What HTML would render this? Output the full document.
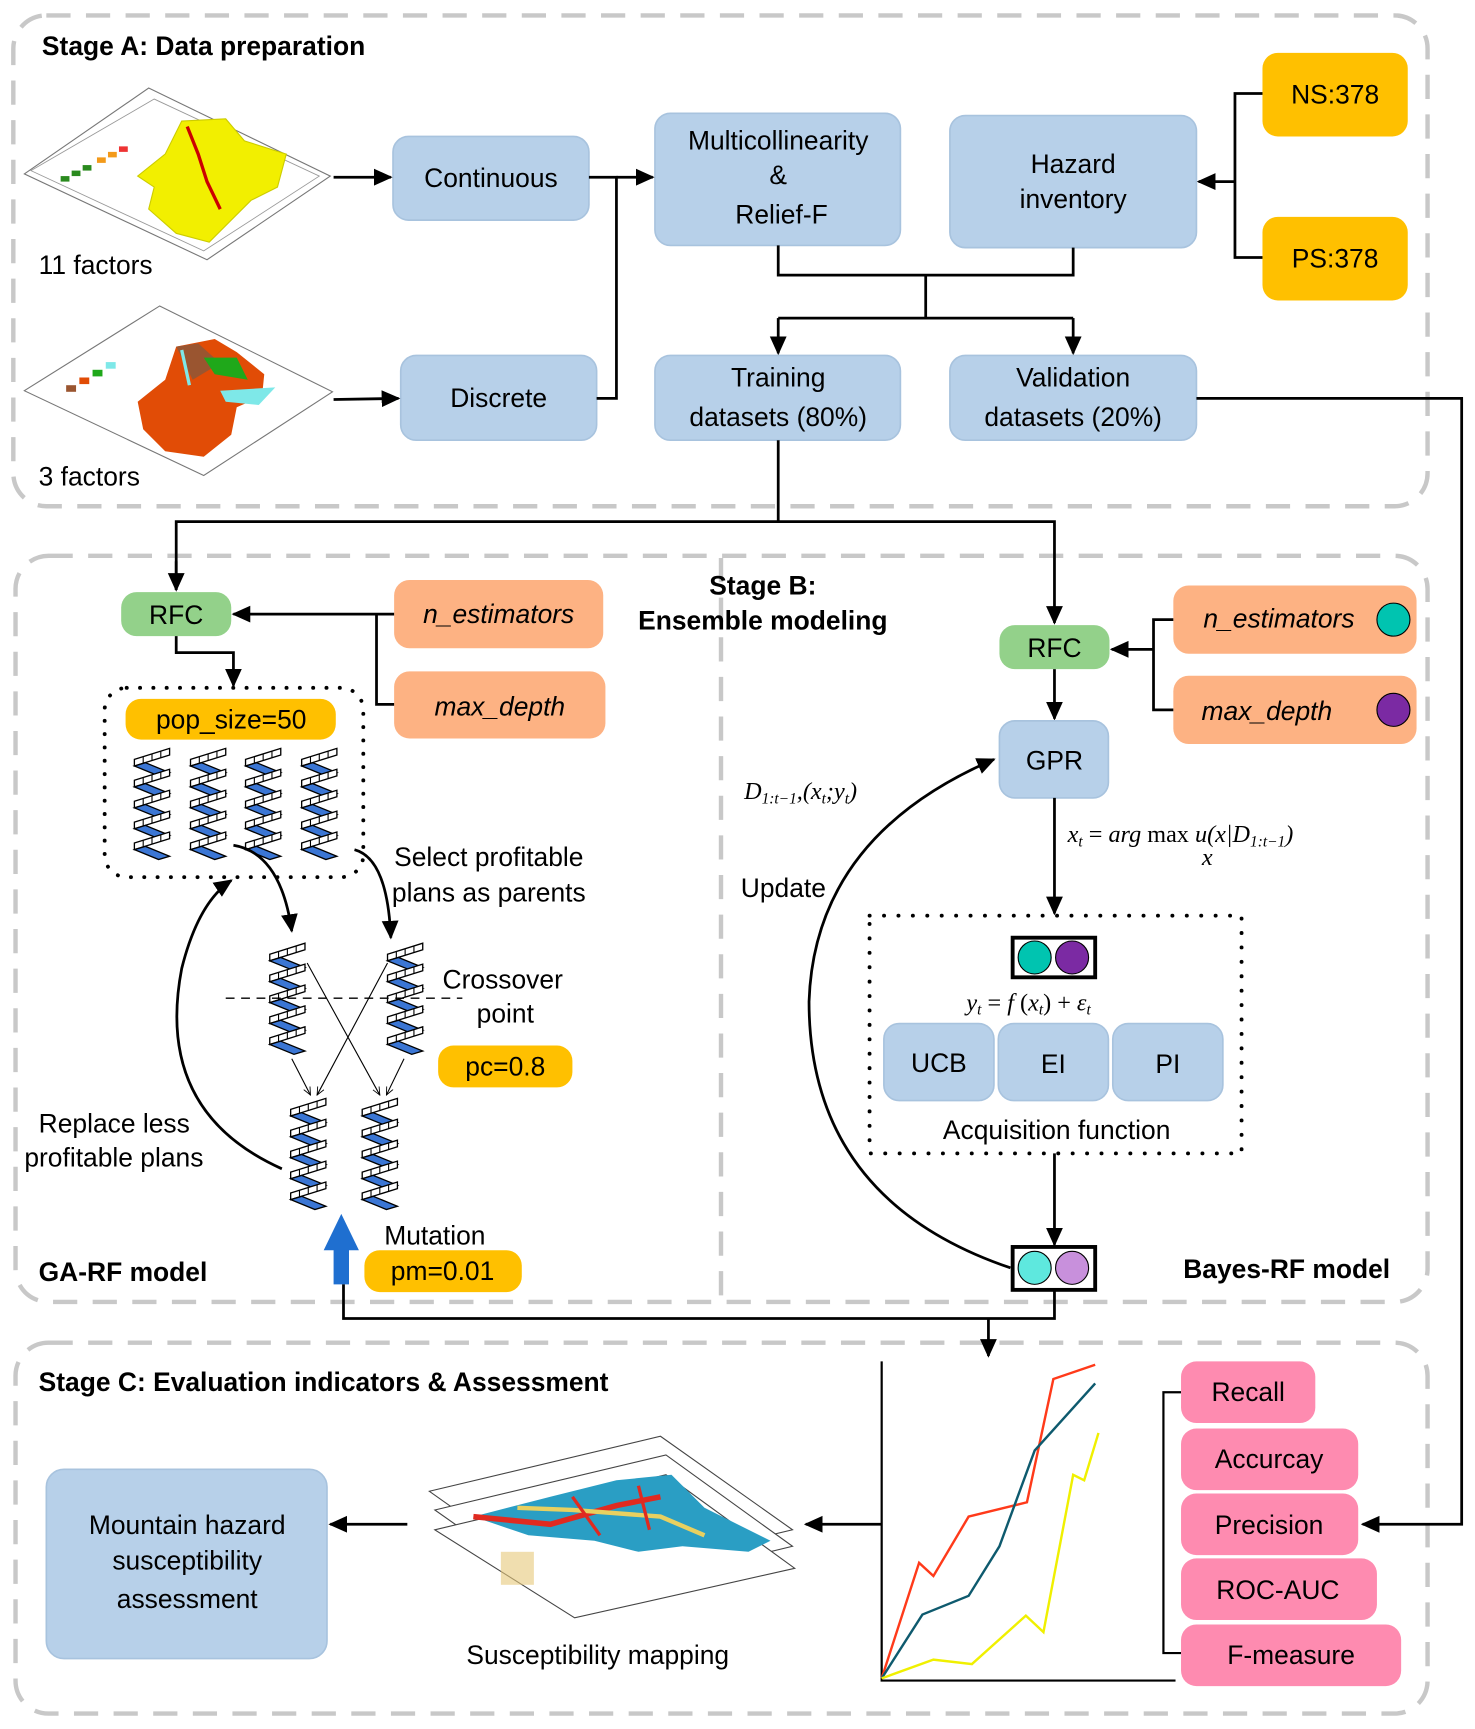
<!DOCTYPE html>
<html><head><meta charset="utf-8"><style>
html,body{margin:0;padding:0;background:#fff;}
svg{display:block;}
text{font-family:"Liberation Sans",Arial,sans-serif;fill:#000;}
.b{fill:#b7d0e9;stroke:#a8c3de;stroke-width:1.5;}
.y{fill:#ffc000;}
.o{fill:#fdb283;}
.g{fill:#93d18a;}
.p{fill:#fe8bb0;}
.ln{stroke:#000;stroke-width:2.5;fill:none;}
.dash{fill:none;stroke:#c8c8c8;stroke-width:4;stroke-dasharray:22 14;}
.t{font-size:24px;text-anchor:middle;}
.bold{font-weight:bold;font-size:24px;}
.it{font-style:italic;}
.m{font-family:"Liberation Serif",serif;font-style:italic;font-size:22px;}
</style></head><body>
<svg width="1475" height="1729" viewBox="0 0 1340 1571" xmlns="http://www.w3.org/2000/svg">
<defs>
<marker id="a" viewBox="0 0 10 10" refX="9" refY="5" markerUnits="userSpaceOnUse" markerWidth="17" markerHeight="17" orient="auto"><path d="M0,0.5L10,5L0,9.5z" fill="#000"/></marker>
<marker id="oa" viewBox="0 0 10 10" refX="9" refY="5" markerWidth="8" markerHeight="8" orient="auto"><path d="M0,1L9,5L0,9" fill="none" stroke="#000" stroke-width="1"/></marker>
<g id="unit">
<polygon points="2,10 34,0 34,6 2,16" fill="#fff" stroke="#000" stroke-width="1.2"/>
<line x1="10" y1="7.5" x2="10" y2="13.5" stroke="#000" stroke-width="1"/>
<line x1="18" y1="5" x2="18" y2="11" stroke="#000" stroke-width="1"/>
<line x1="26" y1="2.5" x2="26" y2="8.5" stroke="#000" stroke-width="1"/>
<polygon points="2,16 12,13 34,22 24,25" fill="#3b76d4" stroke="#000" stroke-width="1.2"/>
</g>
<g id="chr">
<use href="#unit" y="0"/><use href="#unit" y="19"/><use href="#unit" y="38"/><use href="#unit" y="57"/><use href="#unit" y="76"/>
</g>
</defs>

<!-- stage containers -->
<rect class="dash" x="12" y="14" width="1285" height="446" rx="30"/>
<rect class="dash" x="14" y="505" width="1283" height="678" rx="30"/>
<rect class="dash" x="14" y="1220" width="1283" height="337" rx="30"/>
<line class="dash" x1="655" y1="507" x2="655" y2="1178"/>

<!-- Stage A -->
<text class="bold" x="38" y="50">Stage A: Data preparation</text>
<g>
<polygon points="22,158 135,80 300,160 188,236" fill="#fff" stroke="#777" stroke-width="1"/>
<polygon points="28,155 140,90 290,160 185,228" fill="none" stroke="#999" stroke-width="0.8"/>
<path d="M165,110 L205,108 L222,128 L260,140 L252,170 L228,182 L210,200 L190,220 L160,212 L135,190 L140,170 L125,160 L150,140 Z" fill="#f2ef00" stroke="#cc0" stroke-width="1"/>
<path d="M170,115 L180,140 L188,165 L200,190" stroke="#c00" stroke-width="3" fill="none"/>
<g fill="#2a8a1e"><rect x="55" y="160" width="8" height="5"/><rect x="65" y="155" width="8" height="5"/><rect x="75" y="150" width="8" height="5"/></g>
<g fill="#f39a1a"><rect x="88" y="143" width="8" height="5"/><rect x="98" y="138" width="8" height="5"/><rect x="108" y="133" width="8" height="5" fill="#e33"/></g>
</g>
<text x="35" y="249" style="font-size:24px">11 factors</text>
<g>
<polygon points="22,355 145,278 302,356 185,432" fill="#fff" stroke="#777" stroke-width="1"/>
<path d="M160,315 L195,308 L215,320 L240,340 L238,360 L215,370 L210,395 L185,415 L150,410 L130,390 L125,365 L150,345 Z" fill="#e14c06"/>
<path d="M160,315 L180,312 L200,330 L175,345 Z" fill="#9a5530"/>
<path d="M185,325 L215,325 L225,345 L195,340 Z" fill="#1fa81a"/>
<path d="M200,355 L250,352 L235,368 L205,365 Z" fill="#7ee8e8"/>
<path d="M165,318 L172,350" stroke="#7ee8e8" stroke-width="3"/>
<g><rect x="60" y="350" width="9" height="6" fill="#9a5530"/><rect x="72" y="343" width="9" height="6" fill="#e14c06"/><rect x="84" y="336" width="9" height="6" fill="#1fa81a"/><rect x="96" y="329" width="9" height="6" fill="#7ee8e8"/></g>
</g>
<text x="35" y="441" style="font-size:24px">3 factors</text>

<rect class="b" x="357" y="124" width="178" height="76" rx="14"/>
<text class="t" x="446" y="170">Continuous</text>
<rect class="b" x="364" y="323" width="178" height="77" rx="14"/>
<text class="t" x="453" y="370">Discrete</text>
<rect class="b" x="595" y="103" width="223" height="120" rx="14"/>
<text class="t" x="707" y="136">Multicollinearity</text>
<text class="t" x="707" y="167">&amp;</text>
<text class="t" x="710" y="203">Relief-F</text>
<rect class="b" x="863" y="105" width="224" height="120" rx="14"/>
<text class="t" x="975" y="157">Hazard</text>
<text class="t" x="975" y="189">inventory</text>
<rect class="y" x="1147" y="48" width="132" height="76" rx="14"/>
<text class="t" x="1213" y="94">NS:378</text>
<rect class="y" x="1147" y="197" width="132" height="76" rx="14"/>
<text class="t" x="1213" y="243">PS:378</text>
<rect class="b" x="595" y="323" width="223" height="77" rx="14"/>
<text class="t" x="707" y="351">Training</text>
<text class="t" x="707" y="387">datasets (80%)</text>
<rect class="b" x="863" y="323" width="224" height="77" rx="14"/>
<text class="t" x="975" y="351">Validation</text>
<text class="t" x="975" y="387">datasets (20%)</text>

<line class="ln" x1="303" y1="161" x2="355" y2="161" marker-end="url(#a)"/>
<line class="ln" x1="303" y1="363" x2="362" y2="362" marker-end="url(#a)"/>
<polyline class="ln" points="535,161 560,161 560,362 542,362"/>
<line class="ln" x1="560" y1="161" x2="593" y2="161" marker-end="url(#a)"/>
<polyline class="ln" points="707,223 707,250 975,250 975,225"/>
<line class="ln" x1="841" y1="250" x2="841" y2="289"/>
<polyline class="ln" points="707,289 975,289"/>
<line class="ln" x1="707" y1="289" x2="707" y2="321" marker-end="url(#a)"/>
<line class="ln" x1="975" y1="289" x2="975" y2="321" marker-end="url(#a)"/>
<polyline class="ln" points="1147,85 1122,85 1122,234 1147,234"/>
<line class="ln" x1="1122" y1="165" x2="1089" y2="165" marker-end="url(#a)"/>
<polyline class="ln" points="1087,362 1328,362 1328,1385 1238,1385" marker-end="url(#a)"/>
<polyline class="ln" points="707,400 707,474"/>
<polyline class="ln" points="160,536 160,474 958,474 958,566" marker-end="url(#a)"/>
<line class="ln" x1="160" y1="510" x2="160" y2="536" marker-end="url(#a)"/>

<!-- Stage B left -->
<text class="bold" x="693" y="540" text-anchor="middle">Stage B:</text>
<text class="bold" x="693" y="572" text-anchor="middle">Ensemble modeling</text>
<rect class="g" x="110" y="538" width="100" height="40" rx="14"/>
<text class="t" x="160" y="567">RFC</text>
<rect class="o" x="358" y="527" width="190" height="62" rx="14"/>
<text class="t it" x="453" y="566">n_estimators</text>
<rect class="o" x="358" y="610" width="192" height="61" rx="14"/>
<text class="t it" x="454" y="650">max_depth</text>
<polyline class="ln" points="358,640 342,640 342,558"/>
<line class="ln" x1="358" y1="558" x2="212" y2="558" marker-end="url(#a)"/>
<polyline class="ln" points="160,578 160,593 212,593 212,623" marker-end="url(#a)"/>
<rect x="95" y="625" width="235" height="172" rx="20" fill="none" stroke="#000" stroke-width="3.5" stroke-dasharray="0.1 12" stroke-linecap="round"/>
<rect class="y" x="114" y="635" width="191" height="37" rx="14"/>
<text class="t" x="210" y="662">pop_size=50</text>
<use href="#chr" x="120" y="680"/><use href="#chr" x="171" y="680"/><use href="#chr" x="221" y="680"/><use href="#chr" x="272" y="680"/>
<path class="ln" d="M212,768 Q255,775 265,846" marker-end="url(#a)"/>
<path class="ln" d="M322,772 Q352,780 355,852" marker-end="url(#a)"/>
<path class="ln" d="M256,1062 Q140,1010 165,880 Q180,820 210,800" marker-end="url(#a)"/>
<use href="#chr" x="243" y="857"/><use href="#chr" x="350" y="857"/>
<line x1="205" y1="907" x2="420" y2="907" stroke="#000" stroke-width="1.2" stroke-dasharray="8 6"/>
<g stroke="#000" stroke-width="1" fill="none">
<line x1="279" y1="875" x2="345" y2="995" marker-end="url(#oa)"/>
<line x1="352" y1="875" x2="288" y2="995" marker-end="url(#oa)"/>
<line x1="265" y1="962" x2="282" y2="995" marker-end="url(#oa)"/>
<line x1="367" y1="962" x2="351" y2="995" marker-end="url(#oa)"/>
</g>
<use href="#chr" x="262" y="998"/><use href="#chr" x="327" y="998"/>
<text x="358" y="787" style="font-size:24px">Select profitable</text>
<text x="356" y="819" style="font-size:24px">plans as parents</text>
<text x="402" y="898" style="font-size:24px">Crossover</text>
<text x="433" y="929" style="font-size:24px">point</text>
<rect class="y" x="398" y="950" width="122" height="38" rx="14"/>
<text class="t" x="459" y="977">pc=0.8</text>
<text x="35" y="1029" style="font-size:24px">Replace less</text>
<text x="22" y="1060" style="font-size:24px">profitable plans</text>
<text x="349" y="1131" style="font-size:24px">Mutation</text>
<rect class="y" x="331" y="1136" width="143" height="38" rx="14"/>
<text class="t" x="402" y="1163">pm=0.01</text>
<polygon points="310,1103 326,1136 317,1136 317,1167 303,1167 303,1136 294,1136" fill="#1f6fd0"/>
<text class="bold" x="35" y="1164">GA-RF model</text>

<!-- Stage B right -->
<rect class="g" x="908" y="568" width="100" height="40" rx="14"/>
<text class="t" x="958" y="597">RFC</text>
<rect class="o" x="1066" y="532" width="221" height="62" rx="14"/>
<text class="t it" x="1162" y="570">n_estimators</text>
<circle cx="1266" cy="563" r="15" fill="#00c4b0" stroke="#000" stroke-width="1"/>
<rect class="o" x="1066" y="614" width="221" height="62" rx="14"/>
<text class="t it" x="1151" y="654">max_depth</text>
<circle cx="1266" cy="645" r="15" fill="#7b2aa3" stroke="#000" stroke-width="1"/>
<polyline class="ln" points="1066,563 1048,563 1048,645 1066,645"/>
<line class="ln" x1="1048" y1="590" x2="1010" y2="590" marker-end="url(#a)"/>
<line class="ln" x1="958" y1="608" x2="958" y2="653" marker-end="url(#a)"/>
<rect class="b" x="908" y="655" width="99" height="70" rx="14"/>
<text class="t" x="958" y="699">GPR</text>
<line class="ln" x1="958" y1="725" x2="958" y2="830" marker-end="url(#a)"/>
<text class="m" x="970" y="765">x<tspan font-size="14" dy="4">t</tspan><tspan dy="-4" font-style="normal"> = </tspan>arg <tspan font-style="normal">max</tspan> u(x|D<tspan font-size="14" dy="4">1:t−1</tspan><tspan dy="-4">)</tspan></text>
<text class="m" x="1092" y="786" font-size="13">x</text>
<text class="m" x="676" y="726">D<tspan font-size="14" dy="4">1:t−1</tspan><tspan dy="-4">,(x</tspan><tspan font-size="14" dy="4">t</tspan><tspan dy="-4">;y</tspan><tspan font-size="14" dy="4">t</tspan><tspan dy="-4">)</tspan></text>
<text x="673" y="815" style="font-size:24px">Update</text>
<path class="ln" d="M918,1152 Q735,1090 735,910 Q740,760 903,690" marker-end="url(#a)"/>
<rect x="790" y="832" width="338" height="216" fill="none" stroke="#000" stroke-width="3.5" stroke-dasharray="0.1 13" stroke-linecap="round"/>
<rect x="920" y="852" width="75" height="36" fill="#fff" stroke="#000" stroke-width="3.5"/>
<circle cx="940" cy="870" r="15" fill="#00c4b0" stroke="#000" stroke-width="1"/>
<circle cx="974" cy="870" r="15" fill="#7b2aa3" stroke="#000" stroke-width="1"/>
<text class="m" x="878" y="918">y<tspan font-size="14" dy="4">t</tspan><tspan dy="-4" font-style="normal"> = </tspan>f<tspan font-style="normal"> (</tspan>x<tspan font-size="14" dy="4">t</tspan><tspan dy="-4" font-style="normal">) + </tspan>ε<tspan font-size="14" dy="4">t</tspan></text>
<rect class="b" x="803" y="930" width="100" height="70" rx="14"/>
<text class="t" x="853" y="974">UCB</text>
<rect class="b" x="907" y="930" width="100" height="70" rx="14"/>
<text class="t" x="957" y="975">EI</text>
<rect class="b" x="1011" y="930" width="100" height="70" rx="14"/>
<text class="t" x="1061" y="975">PI</text>
<text class="t" x="960" y="1035">Acquisition function</text>
<line class="ln" x1="958" y1="1048" x2="958" y2="1131" marker-end="url(#a)"/>
<rect x="920" y="1133" width="75" height="39" fill="#fff" stroke="#000" stroke-width="3.5"/>
<circle cx="940" cy="1152" r="15" fill="#5ee8de" stroke="#000" stroke-width="1"/>
<circle cx="974" cy="1152" r="15" fill="#c890dc" stroke="#000" stroke-width="1"/>
<text class="bold" x="1075" y="1161">Bayes-RF model</text>
<polyline class="ln" points="958,1172 958,1198 312,1198 312,1167"/>
<line class="ln" x1="898" y1="1198" x2="898" y2="1232" marker-end="url(#a)"/>

<!-- Stage C -->
<text class="bold" x="35" y="1264">Stage C: Evaluation indicators &amp; Assessment</text>
<rect class="b" x="42" y="1335" width="255" height="172" rx="16"/>
<text class="t" x="170" y="1394">Mountain hazard</text>
<text class="t" x="170" y="1426">susceptibility</text>
<text class="t" x="170" y="1461">assessment</text>
<line class="ln" x1="370" y1="1385" x2="300" y2="1385" marker-end="url(#a)"/>
<g>
<polygon points="390,1355 600,1305 720,1390 510,1440" fill="#fff" stroke="#444" stroke-width="1"/>
<polygon points="395,1372 605,1322 720,1405 513,1455" fill="#fff" stroke="#444" stroke-width="1"/>
<polygon points="395,1390 605,1340 722,1425 522,1470" fill="#fff" stroke="#444" stroke-width="1"/>
<path d="M430,1378 L500,1360 L560,1345 L610,1340 L640,1370 L700,1400 L680,1410 L620,1405 L580,1410 L540,1400 L480,1395 Z" fill="#2a9ec4"/>
<path d="M430,1378 L500,1385 L560,1368 L600,1360" stroke="#e02a20" stroke-width="5" fill="none"/>
<path d="M470,1370 L520,1372 L600,1378 L640,1395" stroke="#e8d060" stroke-width="4" fill="none"/>
<path d="M520,1360 L545,1395 M580,1350 L590,1390" stroke="#e02a20" stroke-width="3" fill="none"/>
<rect x="455" y="1410" width="30" height="30" fill="#e6c87a" opacity="0.6"/>
</g>
<text class="t" x="543" y="1512">Susceptibility mapping</text>
<line class="ln" x1="801" y1="1385" x2="732" y2="1385" marker-end="url(#a)"/>
<polyline points="801,1237 801,1527 1068,1527" fill="none" stroke="#000" stroke-width="2"/>
<polyline points="801,1525 835,1420 848,1432 880,1378 933,1365 957,1253 995,1240" fill="none" stroke="#ff3a1a" stroke-width="2.2"/>
<polyline points="801,1525 838,1467 880,1450 908,1405 940,1318 995,1257" fill="none" stroke="#0e5a6e" stroke-width="2.2"/>
<polyline points="801,1525 848,1508 883,1512 932,1468 948,1483 975,1340 985,1345 998,1302" fill="none" stroke="#f0f000" stroke-width="2.2"/>
<polyline class="ln" points="1073,1265 1057,1265 1057,1502 1073,1502" style="stroke-width:2"/>
<rect class="p" x="1073" y="1237" width="122" height="56" rx="14"/>
<text class="t" x="1134" y="1273">Recall</text>
<rect class="p" x="1073" y="1298" width="161" height="56" rx="14"/>
<text class="t" x="1153" y="1334">Accurcay</text>
<rect class="p" x="1073" y="1357" width="161" height="56" rx="14"/>
<text class="t" x="1153" y="1394">Precision</text>
<rect class="p" x="1073" y="1416" width="178" height="56" rx="14"/>
<text class="t" x="1161" y="1453">ROC-AUC</text>
<rect class="p" x="1073" y="1476" width="200" height="56" rx="14"/>
<text class="t" x="1173" y="1512">F-measure</text>
</svg>
</body></html>
